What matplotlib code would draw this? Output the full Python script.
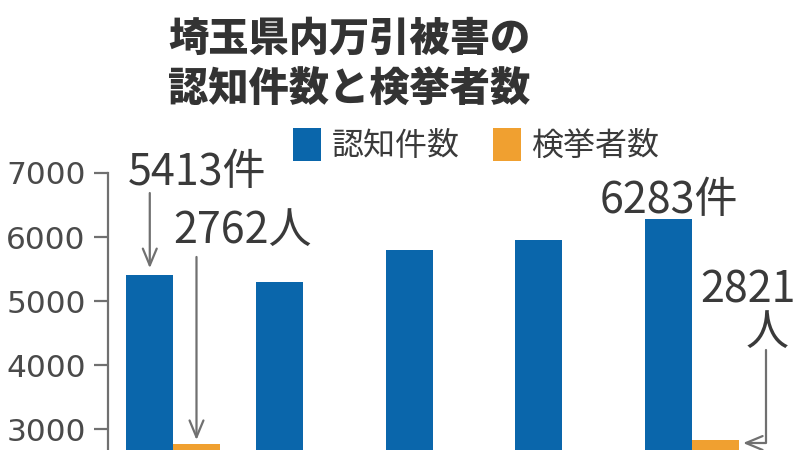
import numpy as np
import matplotlib
matplotlib.use("Agg")
import matplotlib.pyplot as plt

plt.rcParams['font.family'] = ['Noto Sans CJK JP', 'DejaVu Sans']

# data (years are not shown in the crop)
years = ['2019', '2020', '2021', '2022', '2023']
recognized = [5413, 5300, 5800, 5960, 6283]   # 認知件数
arrested = [2762, 2640, 2600, 2650, 2821]     # 検挙者数
yticks = [3000, 4000, 5000, 6000, 7000]

BLUE = '#0a66ab'
ORANGE = '#f0a030'
TEXT = '#3a3a3a'
LINE = '#707070'

fig = plt.figure(figsize=(8, 4.5), dpi=100)
ax = fig.add_axes([108 / 800, 0, 692 / 800, 277 / 450])

x = np.arange(len(years))
w = 0.362
b1 = ax.bar(x - w / 2, recognized, w, color=BLUE, label='認知件数')
b2 = ax.bar(x + w / 2, arrested, w, color=ORANGE, label='検挙者数')

ax.set_ylim(2672, 7000)
ax.set_xlim(-0.501, 4.832)
ax.set_yticks(yticks)
ax.set_xticks([])
for s in ['top', 'right', 'bottom']:
    ax.spines[s].set_visible(False)
ax.spines['left'].set_color(LINE)
ax.spines['left'].set_linewidth(1.6)
ax.tick_params(axis='y', length=10, width=1.6, color=LINE, pad=6,
               labelsize=22.5, labelcolor='#4a4a4a')
for lab in ax.get_yticklabels():
    lab.set_family('DejaVu Sans')

# value labels
lab_kw = dict(fontsize=31, color=TEXT, va='baseline', clip_on=False)
arrow_kw = dict(arrowstyle='->,head_length=1.2,head_width=0.5',
                color=LINE, lw=1.6, shrinkA=0, shrinkB=0)

ax.text(-0.347, 6812, f'{recognized[0]}件', ha='left', **lab_kw)
ax.annotate('', xy=(-0.179, recognized[0] + 100), xytext=(-0.179, 6687),
            arrowprops=arrow_kw)

ax.text(0.0, 5906, f'{arrested[0]}人', ha='left', **lab_kw)
ax.annotate('', xy=(0.181, arrested[0] + 66), xytext=(0.181, 5688),
            arrowprops=arrow_kw)

ax.text(x[-1] - w / 2, recognized[-1] + 92, f'{recognized[-1]}件',
        ha='center', **lab_kw)

ax.text(4.062, 4984, f'{arrested[-1]}', ha='left', **lab_kw)
ax.text(4.578, 4312, '人', ha='center', **lab_kw)
ax.annotate('', xy=(4.393, arrested[-1] - 40), xytext=(4.570, 4234),
            arrowprops=dict(arrow_kw, connectionstyle='angle,angleA=90,angleB=0,rad=0'))

# title
fig.text(168 / 800, 1 - 51 / 450, '埼玉県内万引被害の', fontsize=29,
         fontweight='heavy', color='#333333', ha='left', va='baseline')
fig.text(168 / 800, 1 - 102 / 450, '認知件数と検挙者数', fontsize=29,
         fontweight='heavy', color='#333333', ha='left', va='baseline')

# legend
leg = ax.legend(handles=[b1, b2], ncol=2, frameon=False, fontsize=23,
                loc='center left', bbox_to_anchor=(293 / 800, 1 - 145 / 450),
                bbox_transform=fig.transFigure, borderpad=0, borderaxespad=0,
                handlelength=0.88, handleheight=1.2, handletextpad=0.32,
                columnspacing=1.05)
for t in leg.get_texts():
    t.set_color(TEXT)

fig.savefig('out.png', dpi=100)
